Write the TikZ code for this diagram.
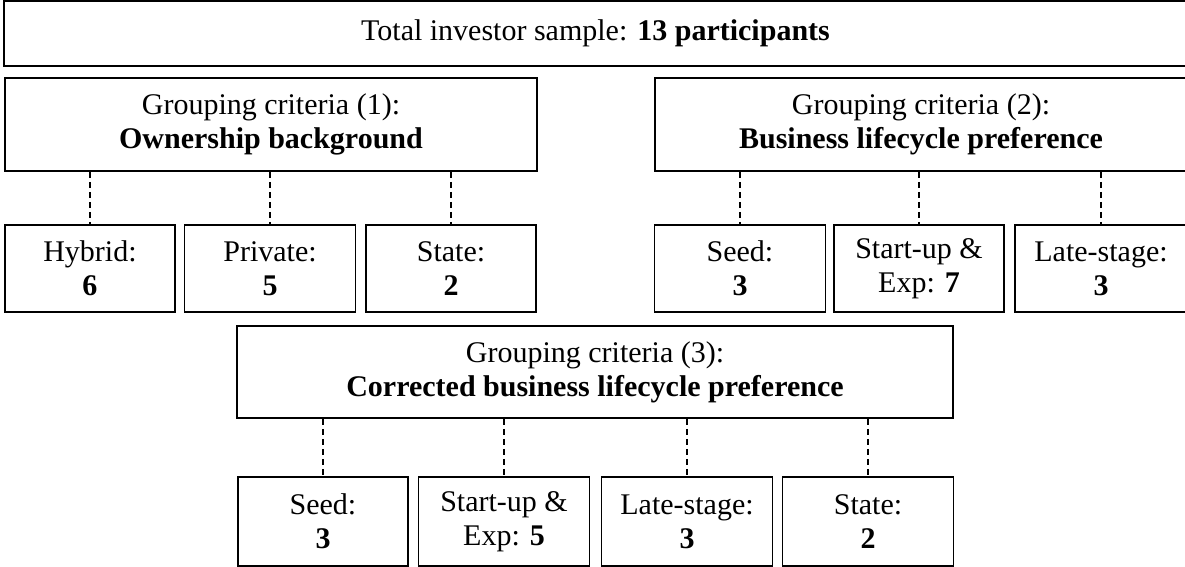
\documentclass[tikz,border=0pt]{standalone}
\usepackage{fontspec}
\setmainfont{Liberation Serif}
\begin{document}
\begin{tikzpicture}[x=0.5pt,y=-0.5pt,
  box/.style={draw=black, line width=0.8pt, fill=white, inner sep=0pt, align=center,
    font=\fontsize{15}{17}\selectfont},
  link/.style={line width=0.6pt, dash pattern=on 3pt off 2pt}]
\useasboundingbox (0,0) rectangle (1185,567);
% top
\node[box, minimum width=591.5pt, minimum height=32.5pt] (top) at (595.5,33.5) {Total investor sample: \textbf{13 participants}};
% grouping boxes
\node[box, minimum width=266pt, minimum height=46.5pt] (g1) at (271,124.5) {Grouping criteria (1):\\\textbf{Ownership background}};
\node[box, minimum width=266pt, minimum height=46.5pt] (g2) at (921,124.5) {Grouping criteria (2):\\\textbf{Business lifecycle preference}};
% row 1
\node[box, minimum width=85pt, minimum height=43.5pt] (hyb) at (90,268.5) {Hybrid:\\\textbf{6}};
\node[box, minimum width=85.5pt, minimum height=43.5pt] (pri) at (270,268.5) {Private:\\\textbf{5}};
\node[box, minimum width=85pt, minimum height=43.5pt] (sta) at (451,268.5) {State:\\\textbf{2}};
\node[box, minimum width=85.5pt, minimum height=43.5pt] (seeda) at (740,268.5) {Seed:\\\textbf{3}};
\node[box, minimum width=85pt, minimum height=43.5pt] (supa) at (919,268.5) {Start-up \&\\Exp: \textbf{7}};
\node[box, minimum width=86pt, minimum height=43.5pt] (latea) at (1101,268.5) {Late-stage:\\\textbf{3}};
% group 3
\node[box, minimum width=358pt, minimum height=46pt] (g3) at (595,372) {Grouping criteria (3):\\\textbf{Corrected business lifecycle preference}};
% row 2
\node[box, minimum width=85pt, minimum height=44.5pt] (seedb) at (323,521.5) {Seed:\\\textbf{3}};
\node[box, minimum width=85.5pt, minimum height=44.5pt] (supb) at (504,521.5) {Start-up \&\\Exp: \textbf{5}};
\node[box, minimum width=85.5pt, minimum height=44.5pt] (lateb) at (687,521.5) {Late-stage:\\\textbf{3}};
\node[box, minimum width=85.5pt, minimum height=44.5pt] (stb) at (868,521.5) {State:\\\textbf{2}};
% connectors
\foreach \n in {hyb,pri,sta}{\draw[link] (g1.south -| \n.north) -- (\n.north);}
\foreach \n in {seeda,supa,latea}{\draw[link] (g2.south -| \n.north) -- (\n.north);}
\foreach \n in {seedb,supb,lateb,stb}{\draw[link] (g3.south -| \n.north) -- (\n.north);}
\end{tikzpicture}
\end{document}
